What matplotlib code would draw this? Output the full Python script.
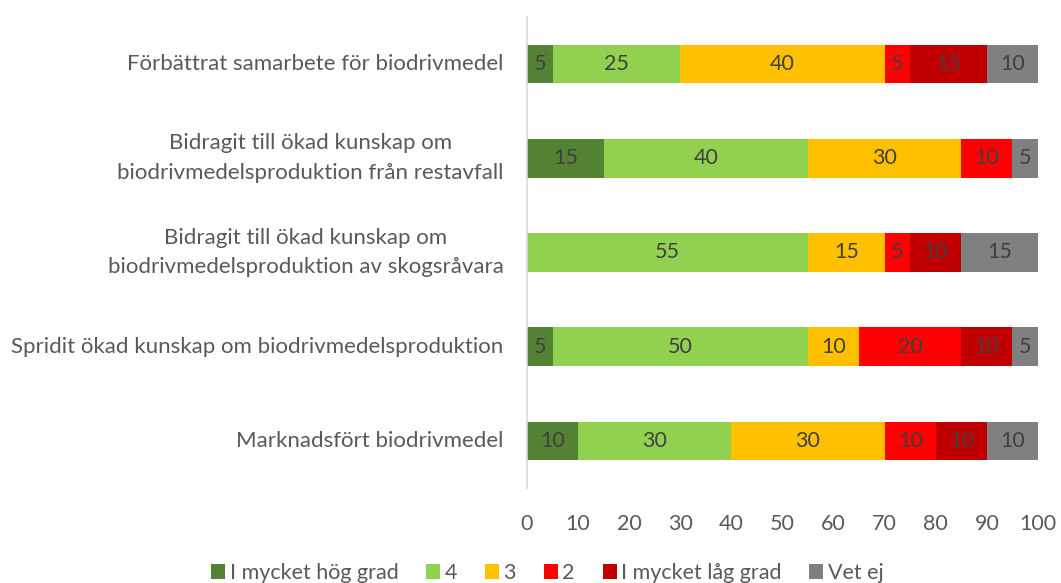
import numpy as np
import matplotlib
matplotlib.use("Agg")
import matplotlib.pyplot as plt

plt.rcParams['font.family'] = ['Lato', 'DejaVu Sans']

categories = [
    "Förbättrat samarbete för biodrivmedel",
    "Bidragit till ökad kunskap om\nbiodrivmedelsproduktion från restavfall",
    "Bidragit till ökad kunskap om\nbiodrivmedelsproduktion av skogsråvara",
    "Spridit ökad kunskap om biodrivmedelsproduktion",
    "Marknadsfört biodrivmedel",
]
series_names = ["I mycket hög grad", "4", "3", "2", "I mycket låg grad", "Vet ej"]
colors = ["#548235", "#92D050", "#FFC000", "#FF0000", "#C00000", "#808080"]

hog = [5, 15, 0, 5, 10]
fyra = [25, 40, 55, 50, 30]
tre = [40, 30, 15, 10, 30]
tva = [5, 10, 5, 20, 10]
lag = [15, 0, 10, 10, 10]
vet_ej = [10, 5, 15, 5, 10]
values = [hog, fyra, tre, tva, lag, vet_ej]

fig = plt.figure(figsize=(10.61, 5.83), dpi=100)
ax = fig.add_axes([0.4967, 0.163, 0.4816, 0.808])

y = np.arange(len(categories))
left = np.zeros(len(categories))
for name, vals, col in zip(series_names, values, colors):
    vals = np.array(vals, dtype=float)
    ax.barh(y, vals, left=left, height=0.41, color=col, label=name)
    for yi, (l, v) in enumerate(zip(left, vals)):
        if v > 0:
            ax.text(l + v / 2, yi, f"{int(v)}", ha="center", va="center",
                    fontsize=15.5, color="#404040")
    left += vals

ax.set_ylim(len(categories) - 0.5, -0.5)
ax.set_xlim(0, 100)
ax.set_xticks(range(0, 101, 10))
ax.set_yticks(y)
ax.set_yticklabels(categories, fontsize=16, color="#595959", ha="right", va="center",
                   multialignment="center", linespacing=1.6)
ax.tick_params(axis="y", length=0, pad=17)
ax.tick_params(axis="x", length=0, labelsize=15.5, labelcolor="#595959", pad=19)
for s in ["top", "right", "bottom"]:
    ax.spines[s].set_visible(False)
ax.spines["left"].set_color("#D9D9D9")
ax.spines["left"].set_linewidth(1.2)

fig.legend(loc="center", bbox_to_anchor=(0.516, 0.017), ncol=6, frameon=False,
           fontsize=15.5, labelcolor="#595959", handlelength=0.65, handleheight=0.65,
           handletextpad=0.2, columnspacing=1.3)

fig.savefig("out.png", dpi=100)
